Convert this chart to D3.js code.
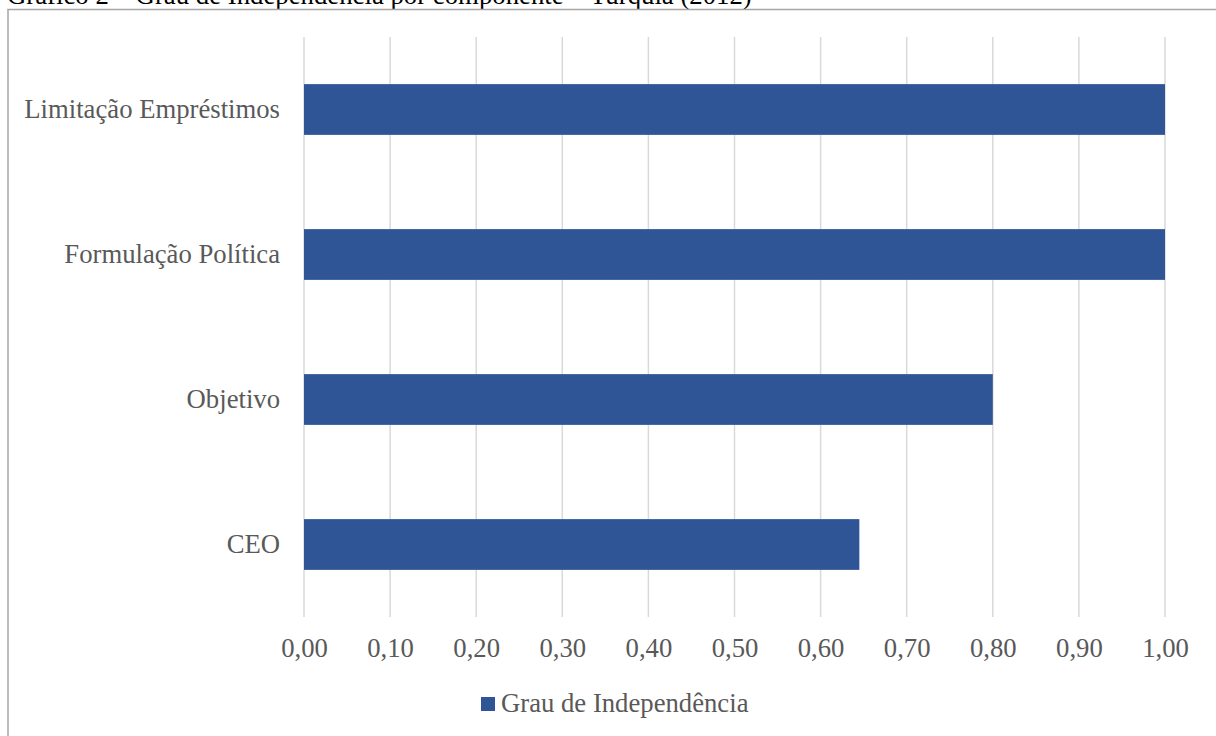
<!DOCTYPE html>
<html><head><meta charset="utf-8">
<script src="https://cdn.jsdelivr.net/npm/d3@7"></script>
<style>html,body{margin:0;padding:0;background:#fff;overflow:hidden}</style>
</head><body>
<svg id="c" width="1216" height="736"></svg>
<script>
const categories = ["Limitação Empréstimos", "Formulação Política", "Objetivo", "CEO"];
const values = [1.00, 1.00, 0.80, 0.645];
const tickValues = [0, 0.1, 0.2, 0.3, 0.4, 0.5, 0.6, 0.7, 0.8, 0.9, 1.0];
const seriesName = "Grau de Independência";
const title = "Gráfico 2 – Grau de Independência por componente – Turquia (2012)";

const svg = d3.select("#c");
const font = "'Liberation Serif','Times New Roman',serif";
const fs = 26.7;

// title (partially cut off at the top, as in the reference)
svg.append("text").attr("x", 7).attr("y", 4).attr("font-family", font)
  .attr("font-size", 24).attr("fill", "#000").text(title)
  .each(function(){ const w=this.getComputedTextLength(); d3.select(this).attr("font-size", 24*745/w); });

// frame
svg.append("rect").attr("x", 8).attr("y", 9.5).attr("width", 1240).attr("height", 760)
  .attr("fill", "none").attr("stroke", "#a6a6a6").attr("stroke-width", 1.5);

const x = d3.scaleLinear().domain([0, 1]).range([304, 1165]);
const y = d3.scaleBand().domain(categories).range([37, 617]).paddingInner(0.65).paddingOuter(0.325);

// gridlines
svg.append("g").selectAll("line").data(tickValues).join("line")
  .attr("x1", d => x(d)).attr("x2", d => x(d)).attr("y1", 37).attr("y2", 617)
  .attr("stroke", "#d9d9d9").attr("stroke-width", 1.5);

// bars
svg.append("g").selectAll("rect").data(categories).join("rect")
  .attr("x", x(0)).attr("y", d => y(d))
  .attr("width", (d, i) => x(values[i]) - x(0)).attr("height", y.bandwidth())
  .attr("fill", "#2f5597");

// x axis
const xAxis = d3.axisBottom(x).tickValues(tickValues).tickSize(0).tickPadding(0)
  .tickFormat(d => d3.format(".2f")(d).replace(".", ","));
const gx = svg.append("g").attr("transform", "translate(0,657)").call(xAxis);
gx.select(".domain").remove();
gx.selectAll("text").attr("font-family", font).attr("font-size", fs).attr("fill", "#595959")
  .attr("y", 0).attr("dy", 0);

// y axis
const yAxis = d3.axisLeft(y).tickSize(0).tickPadding(0);
const gy = svg.append("g").attr("transform", "translate(280,0)").call(yAxis);
gy.select(".domain").remove();
gy.selectAll("text").attr("font-family", font).attr("font-size", fs).attr("fill", "#595959");

// legend
const lg = svg.append("g");
lg.append("rect").attr("x", 481).attr("y", 697).attr("width", 14).attr("height", 14).attr("fill", "#2f5597");
lg.append("text").attr("x", 501).attr("y", 712).attr("font-family", font).attr("font-size", fs)
  .attr("fill", "#595959").text(seriesName);
</script>
</body></html>
